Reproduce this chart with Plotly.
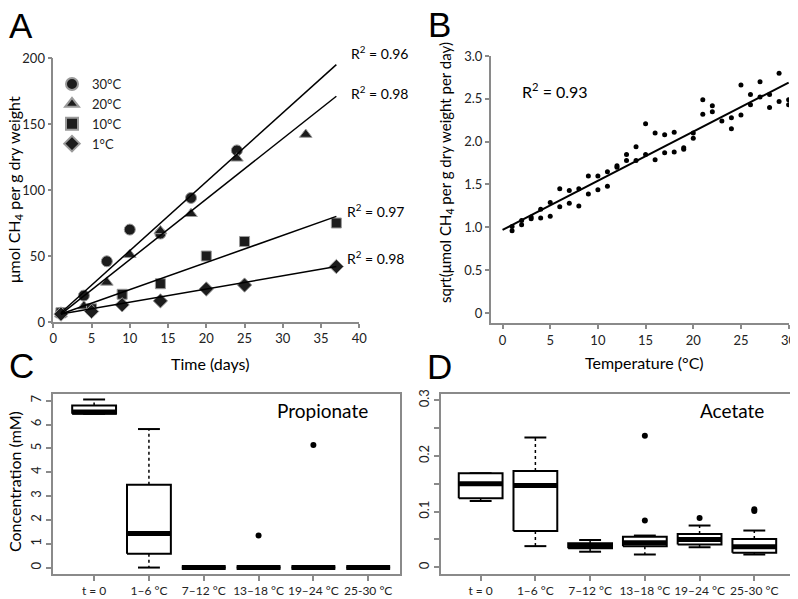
import plotly.graph_objects as go

# ---------------- Panel A data ----------------
days_30 = [1, 4, 7, 10, 14, 18, 24]
ch4_30 = [7, 20, 46, 70, 67, 94, 130]
days_20 = [1, 4, 7, 10, 14, 18, 24, 33]
ch4_20 = [6, 12, 30, 51, 69, 82, 124, 142]
days_10 = [1, 5, 9, 14, 20, 25, 37]
ch4_10 = [7, 10, 21, 29, 50, 61, 75]
days_1 = [1, 5, 9, 14, 20, 25, 37]
ch4_1 = [6, 8, 13, 16, 25, 28, 42]

fit_days = [1, 37]
fit_30 = [7, 195]
fit_20 = [6, 171]
fit_10 = [6, 80]
fit_1 = [6, 42]
r2_a = ["0.96", "0.98", "0.97", "0.98"]

# ---------------- Panel B data ----------------
temp_b = [1, 1, 2, 2, 3, 3, 4, 4, 5, 5, 6, 6, 7, 7, 8, 8, 9, 9, 10, 10,
          11, 11, 12, 12, 13, 13, 14, 14, 15, 15, 16, 16, 17, 17, 18, 18,
          19, 19, 20, 20, 21, 21, 22, 22, 23, 24, 24, 25, 25, 26, 26,
          27, 27, 28, 28, 29, 29, 30, 30]
rate_b = [0.96, 1.01, 1.03, 1.08, 1.12, 1.10, 1.11, 1.21, 1.13, 1.29,
          1.24, 1.45, 1.28, 1.43, 1.25, 1.45, 1.39, 1.60, 1.44, 1.60,
          1.48, 1.65, 1.70, 1.72, 1.78, 1.85, 1.78, 1.94, 1.85, 2.21,
          1.79, 2.10, 1.87, 2.08, 1.88, 2.11, 1.91, 1.93, 2.04, 2.10,
          2.32, 2.49, 2.35, 2.42, 2.24, 2.15, 2.28, 2.31, 2.66, 2.43,
          2.55, 2.52, 2.70, 2.40, 2.55, 2.47, 2.80, 2.43, 2.49]
fit_temp = [0, 30]
fit_rate = [0.97, 2.69]

# ---------------- Panels C/D data ----------------
cats = ["t = 0", "1\u20136 \u00b0C", "7\u201312 \u00b0C", "13\u201318 \u00b0C",
        "19\u201324 \u00b0C", "25-30 \u00b0C"]

prop_lo = [6.45, 0.0, 0, 0, 0, 0]
prop_q1 = [6.45, 0.58, 0, 0, 0, 0]
prop_med = [6.52, 1.43, 0, 0, 0, 0]
prop_q3 = [6.80, 3.47, 0, 0, 0, 0]
prop_hi = [7.05, 5.81, 0, 0, 0, 0]
prop_out_x = [3, 4]
prop_out_y = [1.34, 5.14]

acet_lo = [0.119, 0.038, 0.028, 0.023, 0.036, 0.023]
acet_q1 = [0.124, 0.065, 0.034, 0.038, 0.041, 0.026]
acet_med = [0.150, 0.147, 0.038, 0.044, 0.050, 0.037]
acet_q3 = [0.169, 0.173, 0.043, 0.055, 0.060, 0.051]
acet_hi = [0.169, 0.233, 0.049, 0.057, 0.075, 0.066]
acet_out_x = [3, 3, 4, 5, 5]
acet_out_y = [0.084, 0.236, 0.0885, 0.101, 0.104]

# The page body has an 8px default margin; size the figure so it fills the window.
OFF = 8
W, H = 798 - OFF, 599 - OFF
FONT = "Lato"
GRAY = "#8a8a8a"
TXT = "#222222"


def px(x):
    return (x - OFF) / W


def py(y):
    return 1 - (y - OFF) / H


fig = go.Figure()

# ---- Panel A ----
mk_line = dict(color="#9a9a9a", width=1)
series = [
    ("30\u00b0C", days_30, ch4_30, "circle", 11),
    ("20\u00b0C", days_20, ch4_20, "triangle-up", 11),
    ("10\u00b0C", days_10, ch4_10, "square", 10),
    ("1\u00b0C", days_1, ch4_1, "diamond", 11),
]
for name, xs, ys, sym, sz in series:
    fig.add_trace(go.Scatter(x=xs, y=ys, mode="markers", name=name,
                             marker=dict(symbol=sym, size=sz, color="#1c1c1c",
                                         line=mk_line),
                             xaxis="x", yaxis="y"))
for fy in (fit_30, fit_20, fit_10, fit_1):
    fig.add_trace(go.Scatter(x=fit_days, y=fy, mode="lines", showlegend=False,
                             line=dict(color="black", width=1.5),
                             xaxis="x", yaxis="y"))

# ---- Panel B ----
fig.add_trace(go.Scatter(x=temp_b, y=rate_b, mode="markers", showlegend=False,
                         marker=dict(size=5, color="black"),
                         xaxis="x2", yaxis="y2"))
fig.add_trace(go.Scatter(x=fit_temp, y=fit_rate, mode="lines", showlegend=False,
                         line=dict(color="black", width=2),
                         xaxis="x2", yaxis="y2"))


# ---- Box panels ----
def add_boxes(lo, q1, med, q3, hi, ox, oy, xa, ya):
    hw, cw = 0.4, 0.2
    bx, by, mx, my, wx, wy, cx, cy = [], [], [], [], [], [], [], []
    for i in range(len(q1)):
        bx += [i - hw, i + hw, i + hw, i - hw, i - hw, None]
        by += [q1[i], q1[i], q3[i], q3[i], q1[i], None]
        mx += [i - hw, i + hw, None]
        my += [med[i], med[i], None]
        wx += [i, i, None, i, i, None]
        wy += [q3[i], hi[i], None, q1[i], lo[i], None]
        cx += [i - cw, i + cw, None, i - cw, i + cw, None]
        cy += [hi[i], hi[i], None, lo[i], lo[i], None]
    fig.add_trace(go.Scatter(x=wx, y=wy, mode="lines", showlegend=False,
                             line=dict(color="black", width=1.5, dash="dot"),
                             xaxis=xa, yaxis=ya))
    fig.add_trace(go.Scatter(x=cx, y=cy, mode="lines", showlegend=False,
                             line=dict(color="black", width=2),
                             xaxis=xa, yaxis=ya))
    fig.add_trace(go.Scatter(x=bx, y=by, mode="lines", showlegend=False,
                             fill="toself", fillcolor="white",
                             line=dict(color="black", width=2),
                             xaxis=xa, yaxis=ya))
    fig.add_trace(go.Scatter(x=mx, y=my, mode="lines", showlegend=False,
                             line=dict(color="black", width=5),
                             xaxis=xa, yaxis=ya))
    fig.add_trace(go.Scatter(x=ox, y=oy, mode="markers", showlegend=False,
                             marker=dict(size=6, color="black"),
                             xaxis=xa, yaxis=ya))


add_boxes(prop_lo, prop_q1, prop_med, prop_q3, prop_hi, prop_out_x, prop_out_y, "x3", "y3")
add_boxes(acet_lo, acet_q1, acet_med, acet_q3, acet_hi, acet_out_x, acet_out_y, "x4", "y4")

tickfont = dict(family=FONT, size=13, color=TXT)
catfont = dict(family=FONT, size=12, color=TXT)
base = dict(showline=True, linecolor=GRAY, linewidth=1.5, ticks="outside",
            ticklen=4, tickcolor=GRAY, tickwidth=1.5, showgrid=False,
            zeroline=False, tickfont=tickfont, automargin=False)

fig.update_layout(
    width=W, height=H,
    margin=dict(l=0, r=0, t=0, b=0, pad=0, autoexpand=False),
    paper_bgcolor="white", plot_bgcolor="white",
    font=dict(family=FONT, color=TXT),
    showlegend=True,
    legend=dict(x=px(52), y=py(69), xanchor="left", yanchor="top",
                font=dict(family=FONT, size=13, color=TXT),
                bgcolor="rgba(0,0,0,0)", tracegroupgap=0, itemsizing="constant"),
    xaxis=dict(base, domain=[px(53.3), px(359.3)], range=[0, 40],
               tickvals=list(range(0, 41, 5)), anchor="y"),
    yaxis=dict(base, domain=[py(322), py(58)], range=[0, 200],
               tickvals=[0, 50, 100, 150, 200], anchor="x"),
    xaxis2=dict(base, domain=[px(491), px(789)], range=[-1.21, 30.04],
                tickvals=list(range(0, 31, 5)), anchor="y2", linewidth=2),
    yaxis2=dict(base, domain=[py(323), py(56)], range=[-0.117, 3.0],
                tickvals=[0, 0.5, 1, 1.5, 2, 2.5, 3],
                ticktext=["0", "0.5", "1.0", "1.5", "2.0", "2.5", "3.0"],
                anchor="x2", linewidth=2),
    xaxis3=dict(base, domain=[px(53), px(400)], range=[-0.75, 5.58],
                tickvals=list(range(6)), ticktext=cats, mirror=True,
                anchor="y3", ticklen=5, tickangle=0, tickfont=catfont),
    yaxis3=dict(base, domain=[py(574), py(394)], range=[-0.27, 7.28],
                tickvals=list(range(8)), tickangle=-90, mirror=True,
                anchor="x3", ticklen=5),
    xaxis4=dict(base, domain=[px(440.7), px(797)], range=[-0.73, 5.78],
                tickvals=list(range(6)), ticktext=cats, mirror=True,
                anchor="y4", ticklen=5, tickangle=0, tickfont=catfont),
    yaxis4=dict(base, domain=[py(574), py(394)], range=[-0.012, 0.311],
                tickvals=[0, 0.05, 0.1, 0.15, 0.2, 0.25, 0.3],
                ticktext=["0", "", "0.1", "", "0.2", "", "0.3"],
                tickangle=-90, mirror=True, anchor="x4", ticklen=5),
)

ann = []


def text(x, y, s, size, xanchor="center", angle=0, family=FONT):
    ann.append(dict(x=px(x), y=py(y), xref="paper", yref="paper", text=s,
                    showarrow=False, xanchor=xanchor, yanchor="middle",
                    textangle=angle, font=dict(family=family, size=size, color="black")))


# panel letters
for lt, x, y in (("A", 21, 26), ("B", 439, 24), ("C", 21, 365), ("D", 439, 366)):
    text(x, y, lt, 35, family="Liberation Sans")

# axis titles
text(15, 190, "\u03bcmol CH<sub>4</sub> per g dry weight", 16, angle=-90)
text(210, 363, "Time (days)", 16)
text(446, 172, "sqrt(\u03bcmol CH<sub>4</sub> per g dry weight per day)", 15, angle=-90)
text(644, 362, "Temperature (\u00b0C)", 16)
text(14, 482, "Concentration (mM)", 16, angle=-90)

# R^2 labels
for r, x, y in zip(r2_a, (349, 349, 345, 345), (52, 93, 210, 257)):
    text(x, y, "R<sup>2</sup> = " + r, 14, xanchor="left")
text(520, 90, "R<sup>2</sup> = 0.93", 16, xanchor="left")

text(322, 410, "Propionate", 19)
text(732, 410, "Acetate", 19)

fig.update_layout(annotations=ann)
fig.write_html("out.html")
